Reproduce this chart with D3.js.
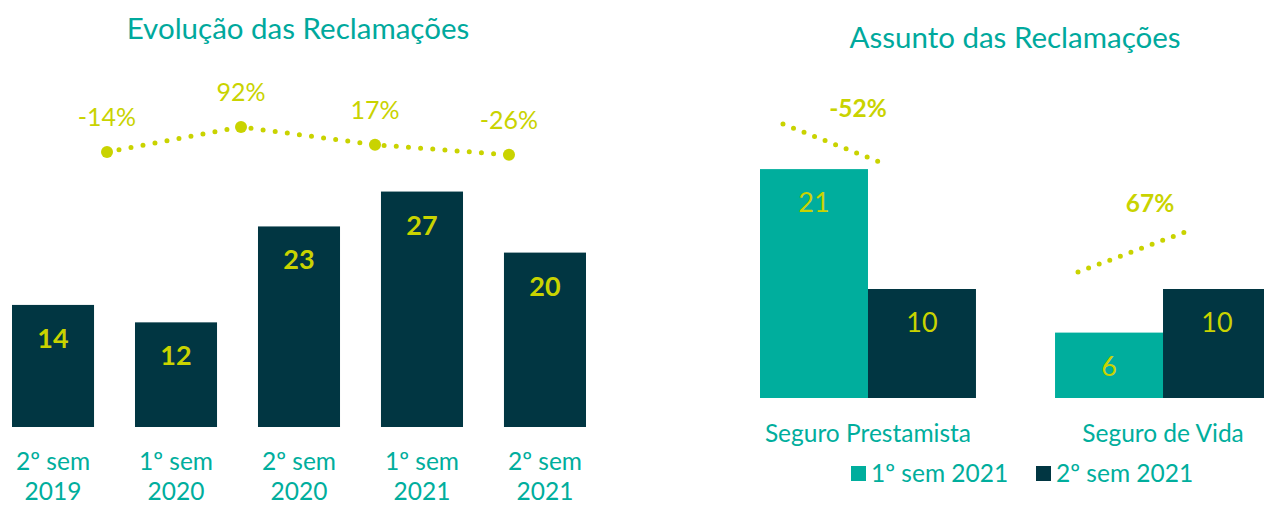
<!DOCTYPE html>
<html>
<head>
<meta charset="utf-8">
<script src="https://cdn.jsdelivr.net/npm/d3@7"></script>
<style>
  body { margin: 0; background: #fff; }
  svg { display: block; font-family: Lato, "Open Sans", sans-serif; }
</style>
</head>
<body>
<svg id="chart" width="1264" height="505"></svg>
<script>
// left chart: complaints per semester
const semesters = ["2º sem|2019", "1º sem|2020", "2º sem|2020", "1º sem|2021", "2º sem|2021"];
const complaints = [14, 12, 23, 27, 20];
const changes = [-14, 92, 17, -26];

// right chart: complaints by subject
const subjects = ["Seguro Prestamista", "Seguro de Vida"];
const seriesNames = ["1º sem 2021", "2º sem 2021"];
const firstHalf = [21, 6];
const secondHalf = [10, 10];
const subjectChange = [-52, 67];

const teal = "#00ae9d",
    dark = "#013642",
    lime = "#c9d300",
    titleColor = "#00a99d";

const svg = d3.select("#chart");

// ---- left ----
let x = d3.scaleBand().domain(semesters).range([12, 586]).paddingInner(0.333).paddingOuter(0);
let y = d3.scaleLinear().domain([0, 27]).range([427, 427 - 27 * 8.72]);

svg.append("text")
    .attr("x", 298).attr("y", 39)
    .attr("text-anchor", "middle")
    .attr("fill", titleColor)
    .attr("font-size", 29.5)
    .text("Evolução das Reclamações");

let left = svg.append("g");
left.selectAll("rect")
    .data(complaints)
    .enter().append("rect")
        .attr("x", (d, i) => x(semesters[i]))
        .attr("y", d => y(d))
        .attr("width", x.bandwidth())
        .attr("height", d => y(0) - y(d))
        .attr("fill", dark);

left.selectAll("text.val")
    .data(complaints)
    .enter().append("text")
        .attr("class", "val")
        .attr("x", (d, i) => x(semesters[i]) + x.bandwidth() / 2)
        .attr("y", d => y(d) + 43)
        .attr("text-anchor", "middle")
        .attr("fill", lime)
        .attr("font-size", 27)
        .attr("font-weight", "bold")
        .text(d => d);

// two-line category labels ("2º sem" / year)
let xLabels = left.selectAll("text.cat")
    .data(semesters)
    .enter().append("text")
        .attr("class", "cat")
        .attr("x", d => x(d) + x.bandwidth() / 2)
        .attr("y", 470)
        .attr("text-anchor", "middle")
        .attr("fill", teal)
        .attr("font-size", 24.5);
xLabels.append("tspan").text(d => d.split("|")[0]);
xLabels.append("tspan")
    .attr("x", d => x(d) + x.bandwidth() / 2)
    .attr("dy", 30)
    .text(d => d.split("|")[1]);

// percent change line
let cx = d3.scalePoint().domain(d3.range(changes.length)).range([107, 509]);
let cy = d3.scaleLinear().domain([-14, 92]).range([152, 127]);

left.append("path")
    .datum(changes)
    .attr("d", d3.line().x((d, i) => cx(i)).y(d => cy(d)))
    .attr("fill", "none")
    .attr("stroke", lime)
    .attr("stroke-width", 5)
    .attr("stroke-linecap", "round")
    .attr("stroke-dasharray", "0 12.2");

left.selectAll("circle")
    .data(changes)
    .enter().append("circle")
        .attr("cx", (d, i) => cx(i))
        .attr("cy", d => cy(d))
        .attr("r", 6)
        .attr("fill", lime);

left.selectAll("text.pct")
    .data(changes)
    .enter().append("text")
        .attr("class", "pct")
        .attr("x", (d, i) => cx(i))
        .attr("y", d => cy(d) - 26)
        .attr("text-anchor", "middle")
        .attr("fill", lime)
        .attr("font-size", 25)
        .text(d => d + "%");

// ---- right ----
let x0 = d3.scaleBand().domain(subjects).range([760, 1271]).paddingInner(0.268).paddingOuter(0);
let x1 = d3.scaleBand().domain(seriesNames).range([0, x0.bandwidth()]);
let y2 = d3.scaleLinear().domain([0, 21]).range([398, 398 - 21 * 10.9]);
let colors = d3.scaleOrdinal().domain(seriesNames).range([teal, dark]);

svg.append("text")
    .attr("x", 1015).attr("y", 48)
    .attr("text-anchor", "middle")
    .attr("fill", titleColor)
    .attr("font-size", 29.5)
    .text("Assunto das Reclamações");

let rows = subjects.map((s, i) => ({
    subject: s,
    values: [firstHalf[i], secondHalf[i]],
    change: subjectChange[i]
}));

let right = svg.append("g");
let groups = right.selectAll("g.grp")
    .data(rows)
    .enter().append("g")
        .attr("class", "grp")
        .attr("transform", d => `translate(${x0(d.subject)},0)`);

groups.selectAll("rect")
    .data(d => d.values.map((v, j) => ({series: seriesNames[j], value: v})))
    .enter().append("rect")
        .attr("x", d => x1(d.series))
        .attr("y", d => y2(d.value))
        .attr("width", x1.bandwidth())
        .attr("height", d => y2(0) - y2(d.value))
        .attr("fill", d => colors(d.series));

groups.selectAll("text.val")
    .data(d => d.values.map((v, j) => ({series: seriesNames[j], value: v})))
    .enter().append("text")
        .attr("class", "val")
        .attr("x", d => x1(d.series) + x1.bandwidth() / 2)
        .attr("y", d => y2(d.value) + 43)
        .attr("text-anchor", "middle")
        .attr("fill", lime)
        .attr("font-size", 27)
        .text(d => d.value);

right.selectAll("text.cat")
    .data(subjects)
    .enter().append("text")
        .attr("class", "cat")
        .attr("x", d => x0(d) + x0.bandwidth() / 2)
        .attr("y", 442)
        .attr("text-anchor", "middle")
        .attr("fill", teal)
        .attr("font-size", 24.5)
        .text(d => d);

// dotted change annotations above each group
groups.each(function(d) {
    let g = d3.select(this);
    let mid = x0.bandwidth() / 2;
    let top = y2(d3.max(d.values));
    let down = d.change < 0;
    let y1 = down ? top - 45 : top - 17;
    let yEnd = down ? top - 5 : top - 57;
    g.append("line")
        .attr("x1", mid - 85).attr("y1", y1)
        .attr("x2", mid + (down ? 17 : 22)).attr("y2", yEnd)
        .attr("stroke", lime)
        .attr("stroke-width", 5)
        .attr("stroke-linecap", "round")
        .attr("stroke-dasharray", "0 11.3");
    g.append("text")
        .attr("x", mid + (down ? -10 : -13))
        .attr("y", down ? top - 52 : top - 77)
        .attr("text-anchor", "middle")
        .attr("fill", lime)
        .attr("font-size", 24.5)
        .attr("font-weight", "bold")
        .text(d.change + "%");
});

// legend
let legendX = [851, 1036];
let legend = svg.selectAll("g.legend")
    .data(seriesNames)
    .enter().append("g")
        .attr("class", "legend")
        .attr("transform", (d, i) => `translate(${legendX[i]},466)`);
legend.append("rect")
    .attr("width", 15).attr("height", 15)
    .attr("fill", d => colors(d));
legend.append("text")
    .attr("x", 20).attr("y", 16)
    .attr("fill", teal)
    .attr("font-size", 24.5)
    .text(d => d);
</script>
</body>
</html>
